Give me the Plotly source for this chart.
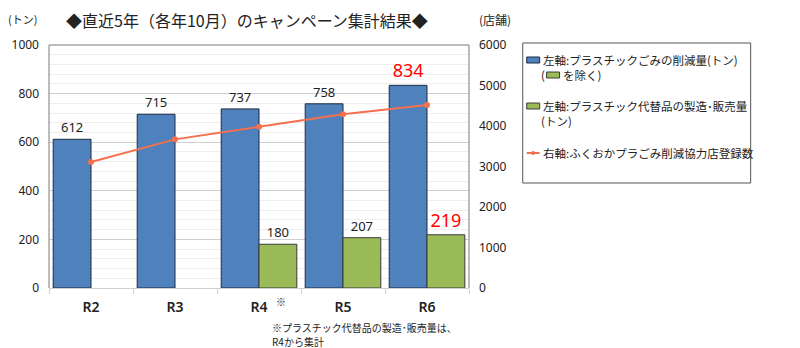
import plotly.graph_objects as go

# --- data ---
years = ["R2", "R3", "R4", "R5", "R6"]
plastic_reduction_t = [612, 715, 737, 758, 834]          # left axis (t)
substitute_sales_t = [None, None, 180, 207, 219]          # left axis (t)
partner_stores = [3110, 3670, 3980, 4290, 4520]          # right axis (stores)

BLUE = "#4F81BD"
GREEN = "#9BBB59"
LINE = "#F4704F"
JP = "Noto Sans CJK JP"
NUM = "Noto Sans"

# plot area in pixels (for placing overlay text/shapes)
W, H = 800, 348
L, R, T, B = 47, 469, 45, 288


def px(x):
    return (x - L) / (R - L)


def py(y):
    return (B - y) / (B - T)


def label_style(values, hi_idx):
    colors = ["red" if i == hi_idx else "#222222" for i in range(len(values))]
    sizes = [18 if i == hi_idx else 13 for i in range(len(values))]
    return colors, sizes


c1, s1 = label_style(plastic_reduction_t, 4)
c2, s2 = label_style(substitute_sales_t, 4)

fig = go.Figure()
fig.add_trace(go.Bar(
    x=years, y=plastic_reduction_t, name="左軸:プラスチックごみの削減量(トン)",
    marker=dict(color=BLUE, line=dict(color="#1c2a40", width=1)),
    text=[str(v) for v in plastic_reduction_t], textposition="outside",
    textfont=dict(color=c1, size=s1, family=NUM), cliponaxis=False,
))
fig.add_trace(go.Bar(
    x=years, y=substitute_sales_t, name="左軸:プラスチック代替品の製造･販売量(トン)",
    marker=dict(color=GREEN, line=dict(color="#3a3a3a", width=1)),
    text=["" if v is None else str(v) for v in substitute_sales_t], textposition="outside",
    textfont=dict(color=c2, size=s2, family=NUM), cliponaxis=False,
))
fig.add_trace(go.Scatter(
    x=years, y=partner_stores, yaxis="y2", mode="lines+markers",
    name="右軸:ふくおかプラごみ削減協力店登録数",
    line=dict(color=LINE, width=2), marker=dict(color=LINE, size=6),
))

fig.update_layout(
    width=W, height=H,
    margin=dict(l=L, r=W - R, t=T, b=H - B),
    paper_bgcolor="white", plot_bgcolor="white",
    showlegend=False,
    barmode="group", bargap=0.1, bargroupgap=0,
    font=dict(family=JP, color="#222222"),
    xaxis=dict(
        showline=True, linecolor="#d0d0d0", linewidth=1,
        ticks="outside", tickson="boundaries", ticklen=5, tickcolor="#d0d0d0",
        tickfont=dict(family=NUM, size=14, color="#222222", weight=600),
        ticklabelstandoff=6,
    ),
    yaxis=dict(
        range=[0, 1000], dtick=200, showgrid=True, gridcolor="#cfcfcf",
        minor=dict(dtick=40, showgrid=True, gridcolor="#eeeeee"),
        zeroline=False, tickfont=dict(family=NUM, size=12, color="#222222"),
        ticklabelstandoff=9,
    ),
    yaxis2=dict(
        range=[0, 6000], dtick=1000, overlaying="y", side="right",
        showgrid=False, zeroline=False,
        tickfont=dict(family=NUM, size=12, color="#222222"),
        ticklabelstandoff=9,
    ),
)

shapes = [
    # plot frame (left, top, right)
    dict(type="line", xref="paper", yref="paper", x0=0, x1=0, y0=0, y1=1,
         line=dict(color="#a6a6a6", width=1.5)),
    dict(type="line", xref="paper", yref="paper", x0=0, x1=1, y0=1, y1=1,
         line=dict(color="#a6a6a6", width=1.5)),
    dict(type="line", xref="paper", yref="paper", x0=1, x1=1, y0=0, y1=1,
         line=dict(color="#a6a6a6", width=1.5)),
    # legend box
    dict(type="rect", xref="paper", yref="paper", x0=px(523), x1=px(752), y0=py(183), y1=py(43),
         line=dict(color="#555555", width=1), fillcolor="white"),
    # legend swatches
    dict(type="rect", xref="paper", yref="paper", x0=px(527), x1=px(540), y0=py(63), y1=py(57),
         line=dict(color="#1c2a40", width=1), fillcolor=BLUE),
    dict(type="rect", xref="paper", yref="paper", x0=px(547), x1=px(560), y0=py(78), y1=py(72),
         line=dict(color="#3a3a3a", width=1), fillcolor=GREEN),
    dict(type="rect", xref="paper", yref="paper", x0=px(527), x1=px(540), y0=py(109), y1=py(103),
         line=dict(color="#3a3a3a", width=1), fillcolor=GREEN),
    dict(type="line", xref="paper", yref="paper", x0=px(527), x1=px(540), y0=py(153), y1=py(153),
         line=dict(color=LINE, width=2)),
    dict(type="circle", xref="paper", yref="paper", x0=px(531.5), x1=px(535.5), y0=py(155), y1=py(151),
         line=dict(color=LINE, width=0), fillcolor=LINE),
]


def note(x, y, text, size, color="#222222", anchor="left", family=JP):
    return dict(xref="paper", yref="paper", x=px(x), y=py(y), text=text, showarrow=False,
                xanchor=anchor, yanchor="middle", font=dict(family=family, size=size, color=color))


annotations = [
    note(62, 20, "◆直近5年（各年10月）のキャンペーン集計結果◆", 16),
    note(4, 19, "(トン)", 11),
    note(477, 19, "(店舗)", 12),
    note(541, 60, "左軸:プラスチックごみの削減量(トン)", 11.5),
    note(539, 75, "(", 11.5),
    note(561, 75, "を除く)", 11.5),
    note(541, 106, "左軸:プラスチック代替品の製造･販売量", 11.5),
    note(539, 121, "(トン)", 11.5),
    note(541, 153, "右軸:ふくおかプラごみ削減協力店登録数", 11.5),
    note(273, 301, "※", 10),
    note(269, 327, "※プラスチック代替品の製造･販売量は、", 10),
    note(269, 341, "R4から集計", 10),
]

fig.update_layout(shapes=shapes, annotations=annotations)
fig.write_html("out.html")
